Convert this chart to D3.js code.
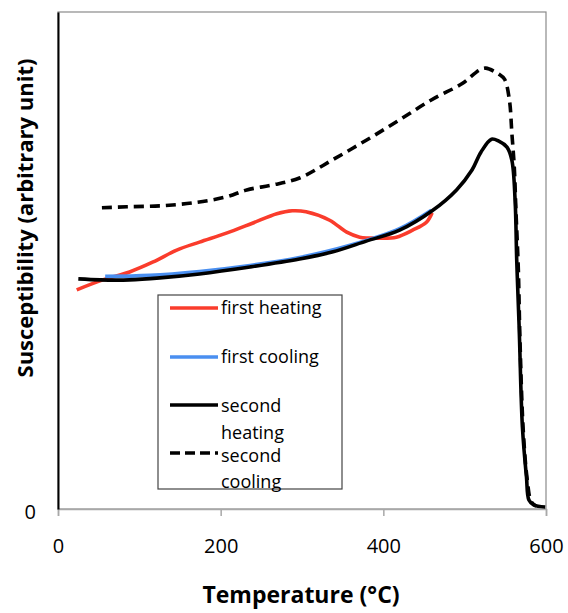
<!DOCTYPE html>
<html>
<head>
<meta charset="utf-8">
<script src="https://cdn.jsdelivr.net/npm/d3@7"></script>
<style>
  body { margin: 0; background: #fff; }
  text { font-family: "Open Sans", "DejaVu Sans", sans-serif; fill: #000; }
</style>
</head>
<body>
<div id="chart"></div>
<script>
// temperature (°C) and susceptibility (arbitrary, 0-100)
var heat1T = [23, 55, 88, 117, 146, 174, 207, 239, 269, 288, 305, 334, 355, 371, 395, 416, 436, 453, 460];
var heat1V = [44.1, 46.1, 47.7, 49.7, 52.1, 53.7, 55.5, 57.5, 59.4, 60.0, 59.8, 58.1, 55.7, 54.7, 54.5, 54.7, 56.1, 57.7, 59.6];

var cool1T = [58, 113, 174, 236, 297, 358, 420, 459];
var cool1V = [46.8, 47.0, 47.8, 49.0, 50.6, 53.0, 56.4, 60.1];

var heat2T = [25, 52, 88, 125, 174, 236, 297, 337, 379, 420, 460, 490, 509, 520, 533, 542, 552, 558, 562, 564, 567, 571, 576, 579, 585, 599];
var heat2V = [46.3, 46.1, 46.1, 46.5, 47.3, 48.7, 50.3, 51.7, 53.9, 56.1, 60.0, 64.2, 68.2, 71.8, 74.4, 74.0, 72.8, 70.2, 62.2, 50.1, 36.6, 16.5, 6.4, 1.8, 0.8, 0.4];

var cool2T = [54, 85, 125, 166, 207, 232, 264, 297, 337, 379, 420, 460, 497, 518, 526, 542, 549, 555, 558, 561, 563, 566, 568, 572, 577, 582, 588];
var cool2V = [60.6, 60.8, 61.0, 61.6, 62.8, 64.2, 65.2, 66.6, 70.2, 74.2, 78.3, 82.4, 85.6, 88.3, 88.7, 87.5, 86.5, 82.3, 75.7, 68.8, 60.2, 48.1, 34.0, 15.9, 5.8, 1.4, 0.6];

var xTicks = [0, 200, 400, 600];
var yTicks = [0];

var seriesNames = ["first heating", "first cooling", "second heating", "second cooling"];
var seriesColors = ["#fa3c2c", "#4a8ff0", "#000", "#000"];

// --
var width = 568, height = 613;
var plot = { left: 58, right: 546, top: 12, bottom: 509 };

var svg = d3.select("#chart").append("svg")
            .attr("width", width)
            .attr("height", height);

var x = d3.scaleLinear().domain([0, 600]).range([plot.left, plot.right]);
var y = d3.scaleLinear().domain([0, 100]).range([plot.bottom, plot.top]);

// frame
svg.append("rect")
   .attr("x", plot.left).attr("y", plot.top)
   .attr("width", plot.right - plot.left)
   .attr("height", plot.bottom - plot.top)
   .attr("fill", "none")
   .attr("stroke", "#8a8a8a")
   .attr("stroke-width", 1.2);

// x axis
var xAxis = d3.axisBottom(x).tickValues(xTicks).tickSize(7).tickPadding(23);
var gx = svg.append("g")
   .attr("transform", "translate(0," + plot.bottom + ")")
   .call(xAxis);
gx.select(".domain").attr("stroke", "#a8a8a8").attr("stroke-width", 1.5);
gx.selectAll(".tick line").attr("stroke", "#a8a8a8").attr("stroke-width", 1.5);
gx.selectAll(".tick text").style("font-size", "20px").attr("fill", "#000");

// y axis
var yAxis = d3.axisLeft(y).tickValues(yTicks).tickSize(0).tickPadding(22);
var gy = svg.append("g")
   .attr("transform", "translate(" + plot.left + ",0)")
   .call(yAxis);
gy.select(".domain").attr("stroke", "#000").attr("stroke-width", 2);
gy.selectAll(".tick text").style("font-size", "20px").attr("fill", "#000").attr("dy", "0.45em");

// titles
svg.append("text")
   .attr("x", 301).attr("y", 603)
   .attr("text-anchor", "middle")
   .style("font-size", "23px").style("font-weight", "bold")
   .text("Temperature (°C)");

svg.append("text")
   .attr("transform", "translate(33,218) rotate(-90)")
   .attr("text-anchor", "middle")
   .style("font-size", "22px").style("font-weight", "bold")
   .text("Susceptibility (arbitrary unit)");

// --
var line = d3.line()
             .x(function(d) { return x(d[0]); })
             .y(function(d) { return y(d[1]); })
             .curve(d3.curveCatmullRom.alpha(0.5));

var series = [
  { T: heat1T, V: heat1V, dash: null },
  { T: cool1T, V: cool1V, dash: null },
  { T: heat2T, V: heat2V, dash: null },
  { T: cool2T, V: cool2V, dash: "10,6" }
];

var drawOrder = [3, 0, 1, 2];
drawOrder.forEach(function(i) {
  var s = series[i];
  svg.append("path")
     .datum(d3.zip(s.T, s.V))
     .attr("d", line)
     .attr("fill", "none")
     .attr("stroke", seriesColors[i])
     .attr("stroke-width", 3.6)
     .attr("stroke-dasharray", s.dash)
     .attr("stroke-linejoin", "round");
});

// legend
var legend = svg.append("g");
legend.append("rect")
      .attr("x", 158).attr("y", 295)
      .attr("width", 184).attr("height", 194)
      .attr("fill", "#fff")
      .attr("stroke", "#444")
      .attr("stroke-width", 1.2);

var legendRows = [
  { sw: 308, lines: ["first heating"], ty: [308] },
  { sw: 357, lines: ["first cooling"], ty: [357] },
  { sw: 405, lines: ["second", "heating"], ty: [406, 433] },
  { sw: 453, lines: ["second", "cooling"], ty: [456, 482] }
];

legendRows.forEach(function(r, i) {
  legend.append("line")
        .attr("x1", 170).attr("x2", 218)
        .attr("y1", r.sw).attr("y2", r.sw)
        .attr("stroke", seriesColors[i])
        .attr("stroke-width", 3.6)
        .attr("stroke-dasharray", series[i].dash ? "10,5" : null);
  r.lines.forEach(function(t, j) {
    legend.append("text")
          .attr("x", 221).attr("y", r.ty[j])
          .attr("dy", "0.35em")
          .style("font-size", "18px")
          .text(t);
  });
});
</script>
</body>
</html>
